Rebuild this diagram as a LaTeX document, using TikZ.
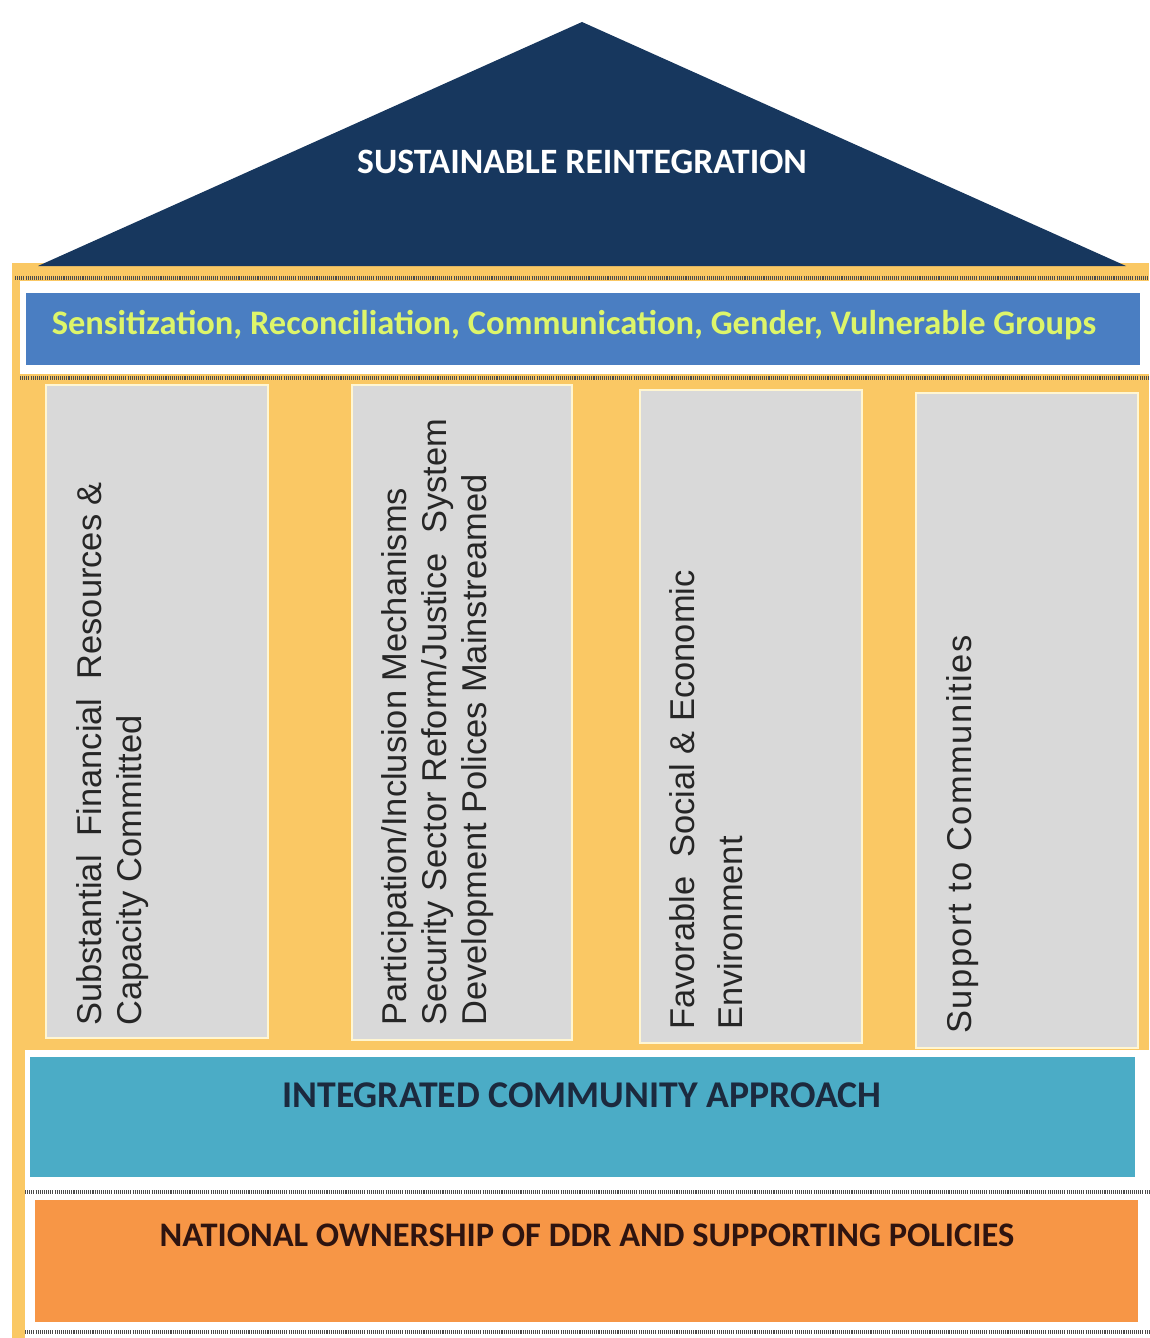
\documentclass[tikz,border=0pt]{standalone}
\usepackage{fontspec}
\setmainfont{Carlito}
\newfontfamily\pillarfont{Liberation Sans}
\definecolor{roofblue}{HTML}{17375E}
\definecolor{housegold}{HTML}{FAC864}
\definecolor{bandblue}{HTML}{4A7EC2}
\definecolor{limetext}{HTML}{DDF56A}
\definecolor{pillargray}{HTML}{D9D9D9}
\definecolor{pillaredge}{HTML}{FFF6D2}
\definecolor{bandteal}{HTML}{4BACC6}
\definecolor{bandorange}{HTML}{F79646}
\definecolor{inknavy}{HTML}{1C2A3E}
\definecolor{inkbrown}{HTML}{2E1410}
\begin{document}
\begin{tikzpicture}
  [x=0.02cm,y=0.02cm,
   checker/.style={draw=gray!60!black,line width=1.9pt,dash pattern=on 0.6pt off 0.6pt},
   pillar/.style={fill=pillargray,draw=pillaredge,line width=1.2pt},
   pillartext/.style={rotate=90,anchor=north west,align=left,inner sep=0pt,
     text=black!85,font=\pillarfont\fontsize{19.6}{22.7}\selectfont}]
  \useasboundingbox (0,0) rectangle (1149,-1338);
  \fill[white] (0,0) rectangle (1149,-1338);

  % body of the house and roof
  \fill[housegold] (12,-263) rectangle (1149,-1338);
  \fill[roofblue] (582,-22) -- (38,-266) -- (1126,-266) -- cycle;
  \node[text=white,font=\bfseries\fontsize{20.3}{24}\selectfont] (title) at (582,-162) {SUSTAINABLE REINTEGRATION};

  % cross-cutting themes
  \draw[checker] (15,-278) -- (1149,-278);
  \fill[white] (20,-281) rectangle (1149,-374);
  \fill[bandblue] (26,-293) rectangle (1140,-365);
  \node[text=limetext,font=\bfseries\fontsize{19.6}{22}\selectfont] (themes) at (574,-325)
    {Sensitization, Reconciliation, Communication, Gender, Vulnerable Groups};
  \draw[checker] (20,-378) -- (1149,-378);

  % pillars
  \foreach \l/\r/\t/\b in {46/268/385/1038, 352/572/385/1040, 640/862/390/1043, 916/1138/393/1048}
    \draw[pillar] (\l,-\t) rectangle (\r,-\b);
  \node[pillartext] (finance) at (76,-1026)
    {Substantial \ Financial \ Resources \&\\Capacity Committed};
  \node[pillartext] (security) at (381,-1026)
    {Participation/Inclusion Mechanisms\\Security Sector Reform/Justice \ System\\Development Polices Mainstreamed};
  \node[pillartext,font=\pillarfont\fontsize{19.6}{27.2}\selectfont] (environment) at (669,-1030)
    {Favorable \ Social \& Economic\\Environment};
  \node[pillartext,font=\pillarfont\fontsize{19.6}{22.7}\selectfont\addfontfeature{LetterSpace=4.4}] (support) at (946,-1034)
    {Support to Communities};

  % foundations
  \fill[white] (25,-1050) rectangle (1149,-1338);
  \fill[bandteal] (30,-1057) rectangle (1135,-1177);
  \node[text=inknavy,font=\bfseries\fontsize{21.5}{25}\selectfont] (approach) at (582,-1095)
    {INTEGRATED COMMUNITY APPROACH};
  \draw[checker] (25,-1192) -- (1149,-1192);
  \fill[bandorange] (35,-1200) rectangle (1138,-1322);
  \node[text=inkbrown,font=\bfseries\fontsize{19.6}{24}\selectfont] (ownership) at (587,-1235)
    {NATIONAL OWNERSHIP OF DDR AND SUPPORTING POLICIES};
  \draw[checker] (25,-1332) -- (1149,-1332);
\end{tikzpicture}
\end{document}
